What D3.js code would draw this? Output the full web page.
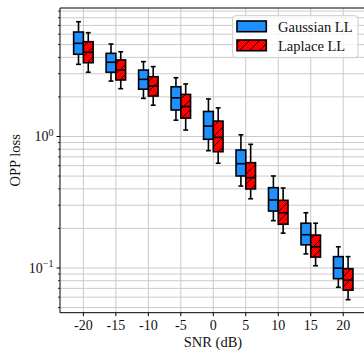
<!DOCTYPE html>
<html>
<head>
<meta charset="utf-8">
<script src="https://cdn.jsdelivr.net/npm/d3@7"></script>
<style>
  html, body { margin: 0; padding: 0; background: #fff; }
  svg { display: block; }
  text { font-family: "Liberation Serif", "Times New Roman", serif; fill: #111; }
</style>
</head>
<body>
<div id="chart"></div>
<script>
// SNR levels (dB)
const snr = [-20, -15, -10, -5, 0, 5, 10, 15, 20];

// Gaussian log-likelihood: whisker low, Q1, median, Q3, whisker high
const gaussLow  = [3.54, 2.64, 1.95, 1.33, 0.78, 0.420, 0.229, 0.128, 0.0713];
const gaussQ1   = [4.22, 3.08, 2.29, 1.59, 0.952, 0.501, 0.271, 0.150, 0.0829];
const gaussMed  = [5.11, 3.67, 2.72, 1.97, 1.20, 0.621, 0.329, 0.179, 0.0997];
const gaussQ3   = [6.23, 4.29, 3.20, 2.39, 1.55, 0.789, 0.408, 0.219, 0.122];
const gaussHigh = [7.46, 5.05, 3.71, 2.80, 1.93, 1.03, 0.501, 0.263, 0.145];

// Laplace log-likelihood: whisker low, Q1, median, Q3, whisker high
const lapLow  = [3.08, 2.31, 1.73, 1.12, 0.626, 0.336, 0.184, 0.104, 0.0574];
const lapQ1   = [3.64, 2.69, 2.03, 1.38, 0.766, 0.399, 0.215, 0.121, 0.0678];
const lapMed  = [4.37, 3.20, 2.42, 1.69, 0.986, 0.486, 0.263, 0.145, 0.0808];
const lapQ3   = [5.26, 3.82, 2.85, 2.09, 1.31, 0.632, 0.327, 0.178, 0.0988];
const lapHigh = [6.16, 4.41, 3.40, 2.51, 1.65, 0.872, 0.406, 0.219, 0.122];

const seriesNames = ["Gaussian LL", "Laplace LL"];
const xTicks = [-20, -15, -10, -5, 0, 5, 10, 15, 20];
const yMajor = [0.1, 1];
const yMajorExp = ["\u22121", "0"];

const W = 364, H = 351;
const pLeft = 60, pTop = 8, pBottom = 312.7, pRight = 366.6;

const svg = d3.select("#chart").append("svg")
  .attr("width", W).attr("height", H);

const x = d3.scaleLinear().domain([-23.6, 23.6]).range([pLeft, pRight]);
const y = d3.scaleLog().domain([0.0457, 9.49]).range([pBottom, pTop]);

// hatch pattern for the Laplace boxes
const defs = svg.append("defs");
const pat = defs.append("pattern")
  .attr("id", "hatch").attr("patternUnits", "userSpaceOnUse")
  .attr("width", 10).attr("height", 10);
pat.append("rect").attr("width", 10).attr("height", 10).attr("fill", "#ff0000");
pat.append("path")
  .attr("d", "M0,10 L10,0 M-2,2 L2,-2 M8,12 L12,8")
  .attr("stroke", "#000").attr("stroke-width", 0.9);

defs.append("clipPath").attr("id", "plotclip")
  .append("rect").attr("x", pLeft).attr("y", pTop)
  .attr("width", pRight - pLeft).attr("height", pBottom - pTop);

// grid
const grid = svg.append("g").attr("clip-path", "url(#plotclip)");
const minorVals = [];
[0.01, 0.1, 1].forEach(d => { for (let k = 2; k <= 9; k++) minorVals.push(d * k); });
const yMinor = minorVals.filter(v => v > y.domain()[0] && v < y.domain()[1]);

grid.selectAll(".hminor").data(yMinor).join("line")
  .attr("x1", pLeft).attr("x2", pRight)
  .attr("y1", d => y(d)).attr("y2", d => y(d))
  .attr("stroke", "#c4c4c4").attr("stroke-width", 0.9);
grid.selectAll(".hmajor").data(yMajor).join("line")
  .attr("x1", pLeft).attr("x2", pRight)
  .attr("y1", d => y(d)).attr("y2", d => y(d))
  .attr("stroke", "#c4c4c4").attr("stroke-width", 0.9);
grid.selectAll(".vmajor").data(xTicks).join("line")
  .attr("x1", d => x(d)).attr("x2", d => x(d))
  .attr("y1", pTop).attr("y2", pBottom)
  .attr("stroke", "#c4c4c4").attr("stroke-width", 0.9);

// box plots
const boxW = 1.5;      // in dB units
const offset = 0.75;   // shift of each series from the SNR position
const series = [
  { low: gaussLow, q1: gaussQ1, med: gaussMed, q3: gaussQ3, high: gaussHigh, shift: -offset, fill: "#1e90ff" },
  { low: lapLow, q1: lapQ1, med: lapMed, q3: lapQ3, high: lapHigh, shift: offset, fill: "url(#hatch)" }
];
const boxes = svg.append("g");
series.forEach(s => {
  const g = boxes.append("g");
  snr.forEach((v, i) => {
    const c = v + s.shift;
    const xc = x(c), x0 = x(c - boxW / 2), x1 = x(c + boxW / 2);
    const cw = (x1 - x0) / 4;
    const sw = 1.6;
    // whiskers
    g.append("line").attr("x1", xc).attr("x2", xc)
      .attr("y1", y(s.q3[i])).attr("y2", y(s.high[i]))
      .attr("stroke", "#000").attr("stroke-width", sw);
    g.append("line").attr("x1", xc).attr("x2", xc)
      .attr("y1", y(s.q1[i])).attr("y2", y(s.low[i]))
      .attr("stroke", "#000").attr("stroke-width", sw);
    g.append("line").attr("x1", xc - cw).attr("x2", xc + cw)
      .attr("y1", y(s.high[i])).attr("y2", y(s.high[i]))
      .attr("stroke", "#000").attr("stroke-width", sw);
    g.append("line").attr("x1", xc - cw).attr("x2", xc + cw)
      .attr("y1", y(s.low[i])).attr("y2", y(s.low[i]))
      .attr("stroke", "#000").attr("stroke-width", sw);
    // box
    g.append("rect").attr("x", x0).attr("width", x1 - x0)
      .attr("y", y(s.q3[i])).attr("height", y(s.q1[i]) - y(s.q3[i]))
      .attr("fill", s.fill).attr("stroke", "#000").attr("stroke-width", sw);
    // median
    g.append("line").attr("x1", x0).attr("x2", x1)
      .attr("y1", y(s.med[i])).attr("y2", y(s.med[i]))
      .attr("stroke", "#000").attr("stroke-width", sw);
  });
});

// spines
const ax = svg.append("g").attr("stroke", "#000").attr("stroke-width", 1);
ax.append("line").attr("x1", pLeft).attr("x2", pLeft).attr("y1", pTop).attr("y2", pBottom);
ax.append("line").attr("x1", pLeft).attr("x2", pRight).attr("y1", pBottom).attr("y2", pBottom);
ax.append("line").attr("x1", pLeft).attr("x2", pRight).attr("y1", pTop).attr("y2", pTop);

// x ticks
const xAx = svg.append("g");
xAx.selectAll("line").data(xTicks).join("line")
  .attr("x1", d => x(d)).attr("x2", d => x(d))
  .attr("y1", pBottom).attr("y2", pBottom + 3.5)
  .attr("stroke", "#000").attr("stroke-width", 1);
xAx.selectAll("text").data(xTicks).join("text")
  .attr("x", d => x(d)).attr("y", 330)
  .attr("text-anchor", "middle").attr("font-size", 14)
  .text(d => String(d));

// y ticks
const yAx = svg.append("g");
yAx.selectAll(".minor").data(yMinor).join("line")
  .attr("x1", pLeft - 2).attr("x2", pLeft)
  .attr("y1", d => y(d)).attr("y2", d => y(d))
  .attr("stroke", "#000").attr("stroke-width", 0.8);
yAx.selectAll(".major").data(yMajor).join("line")
  .attr("x1", pLeft - 3.5).attr("x2", pLeft)
  .attr("y1", d => y(d)).attr("y2", d => y(d))
  .attr("stroke", "#000").attr("stroke-width", 1);
yMajor.forEach((v, i) => {
  const t = yAx.append("text")
    .attr("x", 53.5).attr("y", y(v) + 4.6)
    .attr("text-anchor", "end").attr("font-size", 14);
  t.append("tspan").text("10");
  t.append("tspan").attr("dy", -5.5).attr("font-size", 10).text(yMajorExp[i]);
});

// axis titles
svg.append("text").attr("x", 213).attr("y", 346.5)
  .attr("text-anchor", "middle").attr("font-size", 14.5).text("SNR (dB)");
svg.append("text")
  .attr("transform", `translate(20,${(pTop + pBottom) / 2}) rotate(-90)`)
  .attr("text-anchor", "middle").attr("font-size", 14.5).text("OPP loss");

// legend
const lg = svg.append("g");
lg.append("rect").attr("x", 232.7).attr("y", 15.7).attr("width", 125.3).attr("height", 42)
  .attr("rx", 3).attr("fill", "#fff").attr("fill-opacity", 0.8)
  .attr("stroke", "#cccccc").attr("stroke-width", 1);
const legFills = ["#1e90ff", "url(#hatch)"];
seriesNames.forEach((name, i) => {
  const yy = 21 + i * 19;
  lg.append("rect").attr("x", 237).attr("y", yy).attr("width", 29.3).attr("height", 10.7)
    .attr("fill", legFills[i]).attr("stroke", "#000").attr("stroke-width", 1.6);
  lg.append("text").attr("x", 278).attr("y", yy + 10.6)
    .attr("font-size", 14.5).text(name);
});
</script>
</body>
</html>
